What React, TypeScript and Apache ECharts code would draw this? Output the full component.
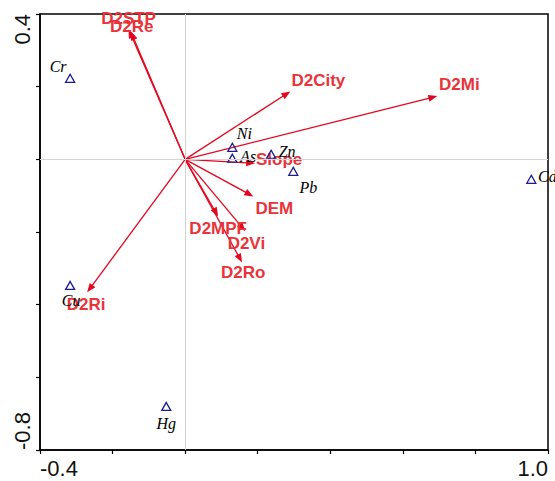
import React, { useEffect, useRef } from 'react';
import * as echarts from 'echarts';

// ---- data ----
const envNames = ['D2STP', 'D2Re', 'D2City', 'D2Mi', 'Slope', 'DEM', 'D2MPF', 'D2Vi', 'D2Ro', 'D2Ri'];
const envX = [-0.156, -0.150, 0.290, 0.695, 0.193, 0.188, 0.091, 0.166, 0.157, -0.270];
const envY = [0.358, 0.352, 0.187, 0.174, -0.011, -0.102, -0.157, -0.198, -0.284, -0.366];

const speciesNames = ['Cr', 'Ni', 'As', 'Zn', 'Pb', 'Cd', 'Cu', 'Hg'];
const speciesX = [-0.317, 0.130, 0.130, 0.237, 0.298, 0.954, -0.317, -0.052];
const speciesY = [0.223, 0.033, 0.003, 0.014, -0.033, -0.055, -0.347, -0.680];

const xTickLabels = ['-0.4', '1.0'];
const yTickLabels = ['-0.8', '0.4'];

// ---- layout / style ----
const envLabelOffset: Record<string, [number, number]> = {
  D2STP: [0, -11], D2Re: [1, -5], D2City: [28, -11], D2Mi: [22, -12], Slope: [24, -4],
  DEM: [21, 12], D2MPF: [0, 12], D2Vi: [1, 12], D2Ro: [1, 10], D2Ri: [-1, 12],
};
const speciesLabelOffset: Record<string, [number, number]> = {
  Cr: [-12, -12], Ni: [12, -14], As: [16, -2], Zn: [16, -3], Pb: [15, 16],
  Cd: [16, -3], Cu: [1, 15], Hg: [0, 17],
};
const RED = '#e3061f';
const LABEL_RED = '#e8333b';
const BLUE = '#1c1c92';

const pickLabel = (list: string[]) => (v: number) =>
  list.find((l) => Math.abs(parseFloat(l) - v) < 1e-6) ?? '';

export default function App() {
  const ref = useRef<HTMLDivElement>(null);
  useEffect(() => {
    if (!ref.current) return;
    const chart = echarts.init(ref.current, undefined, { renderer: 'svg' });
    const envData = envNames.map((n, i) => [envX[i], envY[i]]);
    const speciesData = speciesNames.map((n, i) => ({
      name: n,
      value: [speciesX[i], speciesY[i]],
      label: { offset: speciesLabelOffset[n] },
    }));
    chart.setOption({
      animation: false,
      grid: {
        left: 40, top: 14, right: 7, bottom: 31,
        show: true, borderColor: '#000', borderWidth: 1.5, backgroundColor: 'transparent',
      },
      xAxis: {
        type: 'value', min: -0.4, max: 1.0, interval: 0.2,
        axisLine: { show: true, onZero: false, lineStyle: { color: '#000', width: 1.5 } },
        axisTick: { show: true, length: 4, lineStyle: { color: '#000', width: 1.2 } },
        splitLine: { show: false },
        axisLabel: {
          formatter: pickLabel(xTickLabels), fontSize: 22, color: '#111',
          fontFamily: '"Liberation Sans", Arial, sans-serif', margin: 7,
          alignMinLabel: 'left', alignMaxLabel: 'right', showMinLabel: true, showMaxLabel: true,
        },
      },
      yAxis: {
        type: 'value', min: -0.8, max: 0.4, interval: 0.2,
        axisLine: { show: true, onZero: false, lineStyle: { color: '#000', width: 1.5 } },
        axisTick: { show: true, length: 4, lineStyle: { color: '#000', width: 1.2 } },
        splitLine: { show: false },
        axisLabel: {
          formatter: pickLabel(yTickLabels), fontSize: 22, color: '#111', rotate: 90,
          fontFamily: '"Liberation Sans", Arial, sans-serif', margin: 7,
          alignMinLabel: 'left', alignMaxLabel: 'right', showMinLabel: true, showMaxLabel: true,
        },
      },
      series: [
        {
          type: 'scatter', data: [], z: 1, silent: true,
          markLine: {
            silent: true, symbol: ['none', 'none'], label: { show: false },
            lineStyle: { color: '#d4d4d4', type: 'solid', width: 1 },
            data: [{ xAxis: 0 }, { yAxis: 0 }],
          },
        },
        {
          type: 'custom', z: 3,
          data: envData,
          encode: { x: 0, y: 1 },
          renderItem: (params: any, api: any) => {
            const o = api.coord([0, 0]);
            const t = api.coord([api.value(0), api.value(1)]);
            const name = envNames[params.dataIndex];
            const dx = t[0] - o[0], dy = t[1] - o[1];
            const len = Math.hypot(dx, dy) || 1;
            const ux = dx / len, uy = dy / len;
            const headL = 9, headW = 3.5;
            const bx = t[0] - ux * headL, by = t[1] - uy * headL;
            const off = envLabelOffset[name] || [0, 0];
            return {
              type: 'group',
              children: [
                { type: 'line', shape: { x1: o[0], y1: o[1], x2: bx + ux, y2: by + uy }, style: { stroke: RED, lineWidth: 1.3 } },
                {
                  type: 'polygon',
                  shape: { points: [[t[0], t[1]], [bx - uy * headW, by + ux * headW], [bx + uy * headW, by - ux * headW]] },
                  style: { fill: RED },
                },
                {
                  type: 'text', x: t[0] + off[0], y: t[1] + off[1], z2: 5,
                  style: {
                    text: name, fill: LABEL_RED, fontSize: 17, fontWeight: 'bold',
                    fontFamily: '"Liberation Sans", Arial, sans-serif', align: 'center', verticalAlign: 'middle',
                  },
                },
              ],
            };
          },
        },
        {
          type: 'scatter', z: 4,
          data: speciesData,
          symbol: 'triangle', symbolSize: [9, 8],
          itemStyle: { color: 'rgba(255,255,255,0)', borderColor: BLUE, borderWidth: 1.3, opacity: 1 },
          label: {
            show: true, position: 'inside', formatter: '{b}', color: '#000', fontSize: 16, opacity: 1,
            fontStyle: 'italic', fontFamily: '"Liberation Serif", "Times New Roman", serif',
          },
        },
      ],
    });
    return () => chart.dispose();
  }, []);
  return <div ref={ref} style={{ position: 'absolute', left: 0, top: 0, width: 555, height: 481 }} />;
}
